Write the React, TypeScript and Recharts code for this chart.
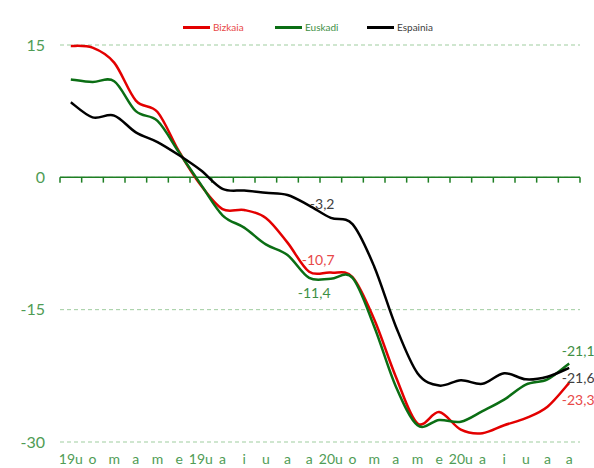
import { LineChart, Line, XAxis, YAxis, CartesianGrid, ReferenceLine, ReferenceDot } from 'recharts';

const months = [
  '2019-01', '2019-02', '2019-03', '2019-04', '2019-05', '2019-06',
  '2019-07', '2019-08', '2019-09', '2019-10', '2019-11', '2019-12',
  '2020-01', '2020-02', '2020-03', '2020-04', '2020-05', '2020-06',
  '2020-07', '2020-08', '2020-09', '2020-10', '2020-11', '2020-12',
];
const tickLabels = [
  '19u', 'o', 'm', 'a', 'm', 'e', '19u', 'a', 'i', 'u', 'a', 'a',
  '20u', 'o', 'm', 'a', 'm', 'e', '20u', 'a', 'i', 'u', 'a', 'a',
];
const bizkaia = [
  14.9, 14.7, 13.0, 8.7, 7.4, 2.9, -0.9, -3.6, -3.7, -4.6, -7.4, -10.7,
  -10.8, -11.3, -16.1, -22.6, -27.9, -26.6, -28.6, -29.0, -28.1, -27.3, -26.0, -23.3,
];
const euskadi = [
  11.1, 10.8, 10.9, 7.5, 6.4, 2.8, -0.8, -4.3, -5.7, -7.6, -8.8, -11.4,
  -11.5, -11.4, -16.9, -23.7, -28.1, -27.5, -27.7, -26.5, -25.2, -23.5, -22.9, -21.1,
];
const espainia = [
  8.5, 6.8, 7.0, 5.1, 4.0, 2.5, 0.8, -1.3, -1.5, -1.75, -2.0, -3.2,
  -4.6, -5.3, -10.1, -16.9, -22.2, -23.6, -23.0, -23.4, -22.2, -22.9, -22.6, -21.6,
];
const yTicks = [15, 0, -15, -30];

const series = [
  { key: 'bizkaia', name: 'Bizkaia', values: bizkaia, color: '#e30000', text: '#e84848' },
  { key: 'euskadi', name: 'Euskadi', values: euskadi, color: '#0b6e14', text: '#3e8f45' },
  { key: 'espainia', name: 'Espainia', values: espainia, color: '#000000', text: '#404040' },
];

// which points get a value label, and where the text sits relative to the point
const valueLabels = [
  { key: 'espainia', index: 11, dx: 13, dy: -2 },
  { key: 'bizkaia', index: 11, dx: 9, dy: -12 },
  { key: 'euskadi', index: 11, dx: 5, dy: 15 },
  { key: 'euskadi', index: 23, dx: 9, dy: -13 },
  { key: 'espainia', index: 23, dx: 9, dy: 10 },
  { key: 'bizkaia', index: 23, dx: 9, dy: 17 },
];

const data = months.map((m, i) => ({
  month: m,
  bizkaia: bizkaia[i],
  euskadi: euskadi[i],
  espainia: espainia[i],
}));

const FONT = 'Lato, "Open Sans", sans-serif';
const AXIS_GREEN = '#1f7f24';
const LABEL_GREEN = '#4f9c55';

// Excel style smoothing (Catmull-Rom through every point)
function smoothCurve(context: any) {
  let pts: number[][] = [];
  return {
    areaStart() {},
    areaEnd() {},
    lineStart() {
      pts = [];
    },
    point(x: number, y: number) {
      pts.push([+x, +y]);
    },
    lineEnd() {
      if (!pts.length) return;
      context.moveTo(pts[0][0], pts[0][1]);
      for (let i = 0; i < pts.length - 1; i++) {
        const p0 = pts[i - 1] || pts[i];
        const p1 = pts[i];
        const p2 = pts[i + 1];
        const p3 = pts[i + 2] || p2;
        context.bezierCurveTo(
          p1[0] + (p2[0] - p0[0]) / 6,
          p1[1] + (p2[1] - p0[1]) / 6,
          p2[0] - (p3[0] - p1[0]) / 6,
          p2[1] - (p3[1] - p1[1]) / 6,
          p2[0],
          p2[1]
        );
      }
    },
  };
}

const fmt = (v: number) => v.toFixed(1).replace('.', ',');

function LegendBox() {
  return (
    <div style={{ position: 'absolute', top: 20, left: 183, display: 'flex', fontFamily: FONT, fontSize: 10 }}>
      {series.map((s) => (
        <div key={s.key} style={{ display: 'flex', alignItems: 'center', width: 92, height: 14 }}>
          <div style={{ width: 27, height: 3, background: s.color, marginRight: 3 }} />
          <span style={{ color: s.text }}>{s.name}</span>
        </div>
      ))}
    </div>
  );
}

export default function App() {
  return (
    <div style={{ position: 'absolute', left: 0, top: 0, width: 594, height: 468, background: '#fff' }}>
      <LegendBox />
      <LineChart width={594} height={468} data={data} margin={{ top: 45, right: 14, bottom: 0, left: 0 }}>
        <CartesianGrid vertical={false} stroke="#9fcd9f" strokeDasharray="4 3" strokeWidth={1} />
        <XAxis
          dataKey="month"
          scale="band"
          height={26}
          interval={0}
          axisLine={false}
          tickLine={false}
          tickSize={0}
          tickMargin={12}
          tick={{ fill: LABEL_GREEN, fontSize: 14, fontFamily: FONT }}
          tickFormatter={(_v: string, i: number) => tickLabels[i]}
        />
        <YAxis
          domain={[-30, 15]}
          ticks={yTicks}
          width={60}
          axisLine={false}
          tickLine={false}
          tickSize={0}
          tickMargin={15}
          tick={{ fill: LABEL_GREEN, fontSize: 16, fontFamily: FONT }}
        />
        <ReferenceLine y={0} stroke={AXIS_GREEN} strokeWidth={1.5} />
        {months.map((m) => (
          <ReferenceLine
            key={'t' + m}
            segment={[{ x: m, y: 0 }, { x: m, y: -0.6 }]}
            position="start"
            stroke={AXIS_GREEN}
            strokeWidth={1.5}
            ifOverflow="visible"
          />
        ))}
        <ReferenceLine
          segment={[{ x: months[months.length - 1], y: 0 }, { x: months[months.length - 1], y: -0.6 }]}
          position="end"
          stroke={AXIS_GREEN}
          strokeWidth={1.5}
          ifOverflow="visible"
        />
        {series.map((s) => (
          <Line
            key={s.key}
            dataKey={s.key}
            name={s.name}
            type={smoothCurve as any}
            stroke={s.color}
            strokeWidth={2.5}
            dot={false}
            activeDot={false}
            isAnimationActive={false}
          />
        ))}
        {valueLabels.map((l) => {
          const s = series.find((x) => x.key === l.key)!;
          const v = s.values[l.index];
          return (
            <ReferenceDot
              key={l.key + l.index}
              x={months[l.index]}
              y={v}
              r={0}
              ifOverflow="visible"
              shape={(p: any) => (
                <text
                  x={p.cx + l.dx}
                  y={p.cy + l.dy}
                  textAnchor="middle"
                  dominantBaseline="central"
                  fill={s.text}
                  fontSize={14}
                  fontFamily={FONT}
                >
                  {fmt(v)}
                </text>
              )}
            />
          );
        })}
      </LineChart>
    </div>
  );
}
